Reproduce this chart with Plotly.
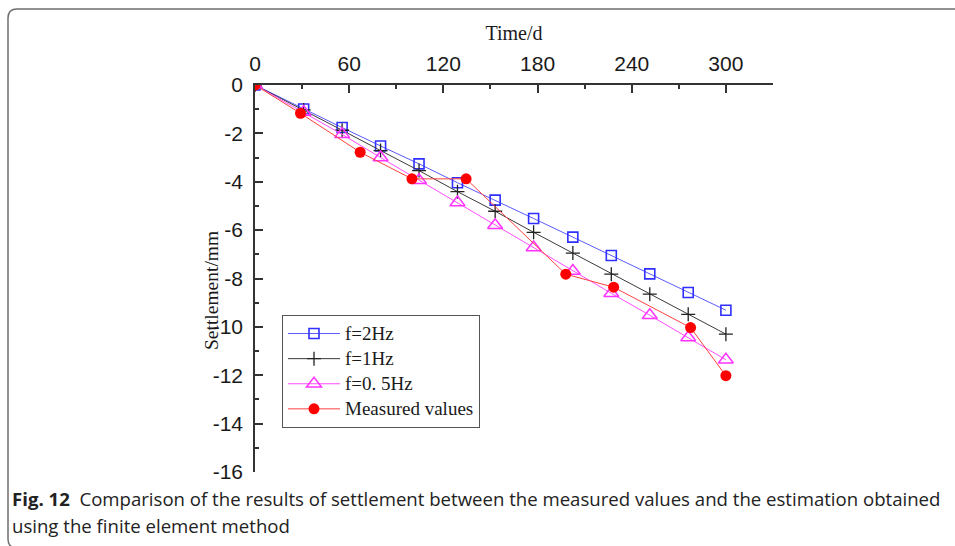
import plotly.graph_objects as go

# ---- data ----
days_model = [0, 31, 55.5, 80, 104.5, 129, 153, 177.5, 202.5, 227, 251.5, 276, 300]
settle_2hz = [0, -0.99, -1.76, -2.52, -3.26, -4.04, -4.76, -5.52, -6.29, -7.05, -7.81, -8.58, -9.31]
settle_1hz = [0, -1.03, -1.87, -2.71, -3.54, -4.41, -5.22, -6.09, -6.95, -7.82, -8.65, -9.48, -10.30]
settle_05hz = [0, -1.12, -2.04, -3.00, -3.94, -4.86, -5.80, -6.72, -7.69, -8.61, -9.52, -10.44, -11.36]
days_measured = [0, 29, 67, 100, 134.5, 198, 228.5, 277.5, 300]
settle_measured = [0, -1.17, -2.78, -3.88, -3.88, -7.82, -8.36, -10.03, -12.02]

series_names = ["f=2Hz", "f=1Hz", "f=0. 5Hz", "Measured values"]
x_ticks = [0, 60, 120, 180, 240, 300]
y_ticks = [0, -2, -4, -6, -8, -10, -12, -14, -16]

# ---- layout geometry (pixels) ----
W, H = 955, 546
L, R, T, B = 255, 773, 85, 472
pw, ph = R - L, B - T


def px(x):
    return (x - L) / pw


def py(y):
    return (B - y) / ph


def legend_label(s):
    return f'<span style="font-size:19px">{s}</span>'


fig = go.Figure()
fig.add_trace(go.Scatter(
    x=days_model, y=settle_2hz, name=legend_label(series_names[0]), mode="lines+markers",
    line=dict(color="#5a5aff", width=1),
    marker=dict(symbol="square-open", size=10, color="#2f2fff", line=dict(width=1.6, color="#2f2fff"))))
fig.add_trace(go.Scatter(
    x=days_model, y=settle_1hz, name=legend_label(series_names[1]), mode="lines+markers",
    line=dict(color="#3a3a3a", width=1),
    marker=dict(symbol="cross-thin-open", size=10, color="#222222", line=dict(width=1.3, color="#222222"))))
fig.add_trace(go.Scatter(
    x=days_model, y=settle_05hz, name=legend_label(series_names[2]), mode="lines+markers",
    line=dict(color="#ff4dff", width=1),
    marker=dict(symbol="triangle-up-open", size=13, color="#ff33ff", line=dict(width=1.5, color="#ff33ff"))))
fig.add_trace(go.Scatter(
    x=days_measured, y=settle_measured, name=legend_label(series_names[3]), mode="lines+markers",
    line=dict(color="#ff4040", width=1),
    marker=dict(symbol="circle", size=11, color="#ff0000")))

tick_font = dict(family="Liberation Sans, Arial, sans-serif", size=21, color="#1a1a1a")
serif = "Liberation Serif, Times New Roman, serif"

fig.update_xaxes(
    side="top", range=[0, 330.01], tickvals=x_ticks, ticktext=[str(v) for v in x_ticks],
    showline=True, linecolor="#333333", linewidth=1.5, mirror=False,
    ticks="inside", ticklen=8, tickwidth=1.5, tickcolor="#333333",
    minor=dict(ticks="inside", ticklen=4, tickwidth=1.5, tickcolor="#333333", dtick=30, tick0=0, showgrid=False),
    showgrid=False, zeroline=False, tickfont=tick_font, ticklabelstandoff=4,
    title=dict(text="Time/d", font=dict(family=serif, size=20, color="#1a1a1a"), standoff=6),
)
fig.update_yaxes(
    range=[-16, 0], tickvals=y_ticks, ticktext=[str(v) for v in y_ticks],
    showline=True, linecolor="#333333", linewidth=1.5, mirror=False,
    ticks="inside", ticklen=8, tickwidth=1.5, tickcolor="#333333",
    minor=dict(ticks="inside", ticklen=4, tickwidth=1.5, tickcolor="#333333", dtick=1, tick0=0, showgrid=False),
    showgrid=False, zeroline=False, tickfont=tick_font, ticklabelstandoff=6,
)

# rounded frame around the figure
xl, yt, r = 8, 9, 9
xr, yb = 965, 548
path = (f"M {px(xl)},{py(yb - r)} L {px(xl)},{py(yt + r)} "
        f"Q {px(xl)},{py(yt)} {px(xl + r)},{py(yt)} L {px(xr)},{py(yt)} "
        f"M {px(xl)},{py(yb - r)} Q {px(xl)},{py(yb)} {px(xl + r)},{py(yb)}")
fig.add_shape(type="path", path=path, xref="paper", yref="paper",
              line=dict(color="#6e6e6e", width=1.5), layer="above")

fig.update_layout(
    width=W, height=H,
    margin=dict(l=L, r=W - R, t=T, b=H - B, autoexpand=False),
    paper_bgcolor="white", plot_bgcolor="white",
    showlegend=True,
    legend=dict(x=px(282), y=py(315), xanchor="left", yanchor="top",
                bgcolor="white", bordercolor="#555555", borderwidth=1,
                font=dict(family=serif, size=17, color="#1a1a1a"),
                itemwidth=52, tracegroupgap=0),
    annotations=[
        dict(text="Settlement/mm", textangle=-90, x=px(211), y=py(291), xref="paper", yref="paper",
             showarrow=False, font=dict(family=serif, size=19.5, color="#1a1a1a"),
             xanchor="center", yanchor="middle"),
        dict(text="<b>Fig. 12</b>  Comparison of the results of settlement between the measured values and the estimation obtained",
             x=px(10), y=py(499), xref="paper", yref="paper", showarrow=False, xanchor="left", yanchor="middle",
             font=dict(family="Open Sans, sans-serif", size=18.6, color="#222222")),
        dict(text="using the finite element method",
             x=px(10), y=py(525), xref="paper", yref="paper", showarrow=False, xanchor="left", yanchor="middle",
             font=dict(family="Open Sans, sans-serif", size=18.6, color="#222222")),
    ],
)

fig.write_html("out.html")
